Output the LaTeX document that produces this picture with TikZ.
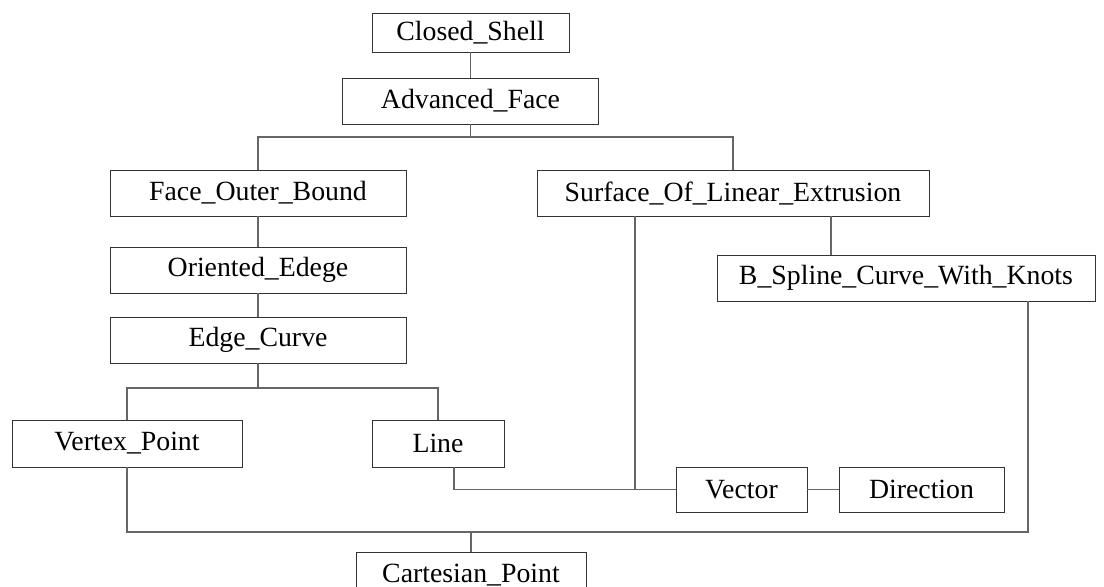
\documentclass[tikz,border=0pt]{standalone}
\usepackage{fontspec}
\setmainfont{Liberation Serif}
\usetikzlibrary{positioning}

\begin{document}
\begin{tikzpicture}[
        box/.style={draw=black!80, line width=0.5pt, minimum height=23pt, inner sep=2pt, outer sep=0pt,
          font=\fontsize{13.9pt}{16pt}\selectfont, align=center}, % entity boxes
        link/.style={draw=black!60, line width=0.6pt} % connector lines
      ]
      \useasboundingbox (0,0) rectangle (552pt,-293pt);

      % Nodes
      \node (closed) [box, minimum width=98.5pt, minimum height=19.5pt] at (235.25pt,-16.25pt) {Closed\_Shell};
      \node (adv) [box, minimum width=128pt, below=13pt of closed] {Advanced\_Face};
      \node (fob) [box, minimum width=148pt, below=23pt of adv, xshift=-106.25pt] {Face\_Outer\_Bound};
      \node (surf) [box, minimum width=196pt, below=23pt of adv, xshift=131.25pt] {Surface\_Of\_Linear\_Extrusion};
      \node (orient) [box, minimum width=148pt, below=15.5pt of fob] {Oriented\_Edege};
      \node (edge) [box, minimum width=148pt, below=12pt of orient] {Edge\_Curve};
      \node (bspl) [box, minimum width=189pt, below=19.5pt of surf, xshift=86.5pt] {B\_Spline\_Curve\_With\_Knots};
      \node (vertex) [box, minimum width=115pt, minimum height=23.5pt, below=28.5pt of edge, xshift=-65.5pt] {Vertex\_Point};
      \node (line) [box, minimum width=66pt, minimum height=23.5pt, right=65pt of vertex] {Line};
      \node (vector) [box, minimum width=65.5pt, minimum height=22.5pt, right=86pt of line, yshift=-23pt] {Vector};
      \node (dir) [box, minimum width=82.5pt, minimum height=22.5pt, right=16pt of vector] {Direction};
      \node (cart) [box, minimum width=115pt, below=42.5pt of line, xshift=16.5pt] {Cartesian\_Point};

      % Split points
      \coordinate (advsplit) at ([yshift=-6.5pt]adv.south);
      \coordinate (edgesplit) at ([yshift=-12.5pt]edge.south);
      \coordinate (cartsplit) at ([yshift=10pt]cart.north);

      % Connectors
      \draw[link] (closed) -- (adv);
      \draw[link] (adv) -- (advsplit);
      \draw[link] (fob.north) |- (advsplit) -| (surf.north);
      \draw[link] (fob) -- (orient);
      \draw[link] (orient) -- (edge);
      \draw[link] (edge) -- (edgesplit);
      \draw[link] (vertex.north) |- (edgesplit) -| (line.north);
      \draw[link] ([xshift=8pt]line.south) |- (vector.west);
      \draw[link] ([xshift=-49pt]surf.south) -- ([xshift=-49pt]surf.south |- vector.west);
      \draw[link] ([xshift=49pt]surf.south) -- ([xshift=49pt]surf.south |- bspl.north);
      \draw[link] (vector) -- (dir);
      \draw[link] (vertex.south) |- (cartsplit) -| ([xshift=61pt]bspl.south);
      \draw[link] (cart) -- (cartsplit);

    \end{tikzpicture}
\end{document}
